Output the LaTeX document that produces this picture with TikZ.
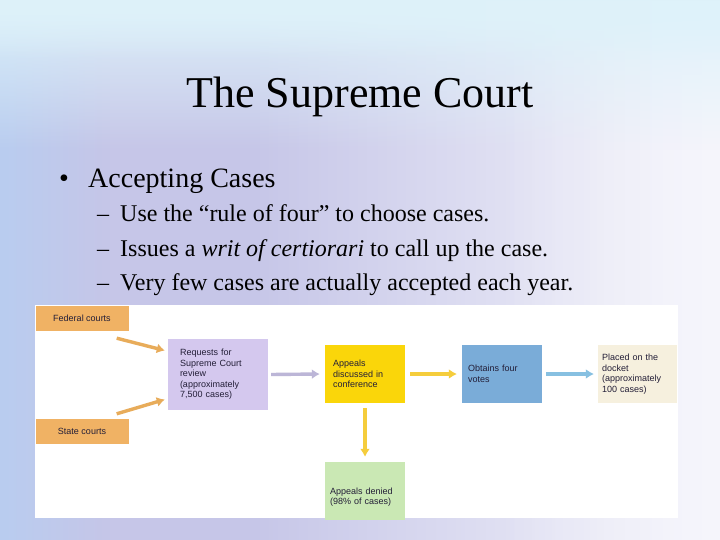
\documentclass[tikz,border=0pt]{standalone}
\usepackage{fontspec}
\setmainfont{Liberation Serif}
\newfontfamily\chartfont{Liberation Sans}
\usetikzlibrary{arrows.meta,calc,fadings}
\definecolor{bgtop}{RGB}{222,242,250}
\definecolor{bgmid}{RGB}{198,198,232}
\definecolor{bgright}{RGB}{246,246,252}
\definecolor{bgleft}{RGB}{185,205,240}
\definecolor{courtorange}{RGB}{240,178,100}
\definecolor{reqlav}{RGB}{212,200,238}
\definecolor{confyellow}{RGB}{250,214,10}
\definecolor{denygreen}{RGB}{202,232,180}
\definecolor{voteblue}{RGB}{122,172,216}
\definecolor{docketcream}{RGB}{246,240,222}
\definecolor{arrorange}{RGB}{232,172,90}
\definecolor{arrlav}{RGB}{188,182,215}
\definecolor{arryellow}{RGB}{245,205,60}
\definecolor{arrblue}{RGB}{135,192,225}
\definecolor{charttext}{RGB}{35,30,55}
\tikzfading[name=fadetoright, left color=transparent!100, right color=transparent!0]
\tikzfading[name=fadetoleft, left color=transparent!0, right color=transparent!100]
\tikzfading[name=fadedown, top color=transparent!0, bottom color=transparent!100]
\tikzset{
  chartbox/.style={draw=none, inner xsep=5pt, inner ysep=3pt,
     font=\chartfont\fontsize{9}{10.5}\selectfont, text=charttext, align=left},
  flowarrow/.style={line width=3.4pt, -{Latex[length=8pt,width=10pt]}},
}
\begin{document}
\begin{tikzpicture}[x=1pt,y=-1pt]
\useasboundingbox (0,0) rectangle (720,540);
% background
\fill[bgmid] (0,0) rectangle (720,540);
\fill[bgright, path fading=fadetoright] (250,0) rectangle (720,540);
\fill[bgright, path fading=fadetoright, opacity=0.7] (500,0) rectangle (720,540);
\fill[bgleft, path fading=fadetoleft] (0,0) rectangle (110,540);
\fill[bgtop, path fading=fadedown] (0,0) rectangle (720,150);
\fill[bgtop, path fading=fadedown] (0,0) rectangle (720,60);
% chart area
\fill[white] (35,305) rectangle (678,518);
% title and bullets
\node[font=\fontsize{44}{50}\selectfont] (title) at (360,97) {The Supreme Court};
\node[anchor=base, font=\fontsize{28}{32}\selectfont] (dot) at (64,188) {•};
\node[anchor=base west, inner sep=0pt, font=\fontsize{28}{32}\selectfont] (b1) at (88,188) {Accepting Cases};
\foreach \yy/\nm in {222/d1,256/d2,290/d3}
  \node[anchor=base west, inner sep=0pt, font=\fontsize{24}{28}\selectfont] (\nm) at (97,\yy) {–};
\node[anchor=base west, inner sep=0pt, font=\fontsize{24}{28}\selectfont] (s1) at (120,222) {Use the “rule of four” to choose cases.};
\node[anchor=base west, inner sep=0pt, font=\fontsize{24}{28}\selectfont] (s2) at (120,256) {Issues a \textit{writ of certiorari} to call up the case.};
\node[anchor=base west, inner sep=0pt, font=\fontsize{24}{28}\selectfont] (s3) at (120,290) {Very few cases are actually accepted each year.};
% flowchart nodes
\node[chartbox, fill=courtorange, minimum width=93pt, minimum height=25pt, align=center] (fed) at (82,318.5) {Federal courts};
\node[chartbox, fill=courtorange, minimum width=93pt, minimum height=25pt, align=center] (state) at (82,431.5) {State courts};
\node[chartbox, fill=reqlav, text width=76pt, minimum height=71pt, inner xsep=12pt] (req) at (218,374.5) {Requests for\\Supreme Court\\review\\(approximately\\7,500 cases)};
\node[chartbox, fill=confyellow, text width=64pt, minimum height=58pt, inner xsep=8pt] (conf) at (365,374) {Appeals\\discussed in\\conference};
\node[chartbox, fill=denygreen, text width=70pt, minimum height=58pt, inner xsep=5pt, text depth=-6pt] (deny) at (365,491) {Appeals denied\\(98\% of cases)};
\node[chartbox, fill=voteblue, text width=68pt, minimum height=58pt, inner xsep=6pt] (votes) at (502,374) {Obtains four\\votes};
\node[chartbox, fill=docketcream, text width=71pt, minimum height=58pt, inner xsep=4pt] (docket) at (637.5,374) {Placed on the\\docket\\(approximately\\100 cases)};
% connectors
\draw[flowarrow, arrorange] ($(fed.south east)+(-12,7)$) -- ($(req.west)+(-3,-24)$);
\draw[flowarrow, arrorange] ($(state.north east)+(-12,-5)$) -- ($(req.west)+(-3,25)$);
\draw[flowarrow, arrlav] ($(req.east)+(3,0)$) -- ($(conf.west)+(-5,0)$);
\draw[flowarrow, arryellow] ($(conf.east)+(5,0)$) -- ($(votes.west)+(-5,0)$);
\draw[flowarrow, arrblue] ($(votes.east)+(4,0)$) -- ($(docket.west)+(-4,0)$);
\draw[flowarrow, arryellow] ($(conf.south)+(0,5)$) -- ($(deny.north)+(0,-5)$);
\end{tikzpicture}
\end{document}
